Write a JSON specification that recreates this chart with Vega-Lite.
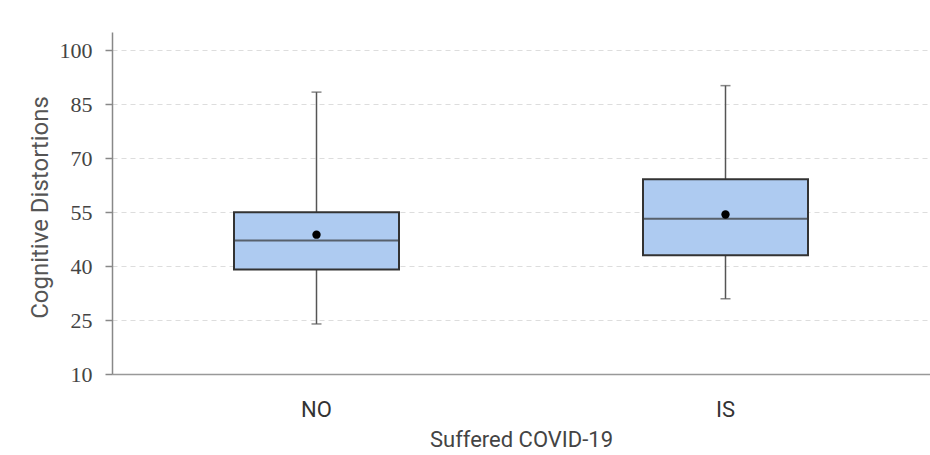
{
  "$schema": "https://vega.github.io/schema/vega-lite/v6.json",
  "autosize": "none",
  "padding": {"left": 112, "top": 32, "right": 0, "bottom": 81},
  "width": 818,
  "height": 342,
  "background": "white",
  "config": {"view": {"stroke": null}},
  "data": {
    "values": [
      {"group": "NO", "lower": 23.9, "q1": 39.0, "median": 47.1, "q3": 54.9, "upper": 88.3, "mean": 48.7},
      {"group": "IS", "lower": 30.9, "q1": 43.0, "median": 53.1, "q3": 64.1, "upper": 90.1, "mean": 54.3}
    ]
  },
  "encoding": {
    "x": {
      "field": "group", "type": "nominal", "sort": ["NO", "IS"],
      "scale": {"paddingInner": 0, "paddingOuter": 0},
      "axis": {
        "title": "Suffered COVID-19", "ticks": false, "grid": false, "labelAngle": 0,
        "domainColor": "#999", "domainWidth": 1.5,
        "labelFont": "Roboto", "labelFontSize": 22, "labelColor": "#333", "labelPadding": 25,
        "titleFont": "Roboto", "titleFontSize": 22, "titleFontWeight": "normal", "titleColor": "#444", "titlePadding": 9
      }
    }
  },
  "layer": [
    {
      "mark": {"type": "rule", "color": "#555", "strokeWidth": 1.5},
      "encoding": {
        "y": {
          "field": "lower", "type": "quantitative",
          "scale": {"domain": [10, 105], "nice": false, "zero": false},
          "axis": {
            "title": "Cognitive Distortions", "values": [10, 25, 40, 55, 70, 85, 100],
            "domainColor": "#888", "domainWidth": 1.5, "tickColor": "#888", "tickSize": 7, "tickWidth": 1.5,
            "labelFont": "Liberation Serif", "labelFontSize": 22, "labelColor": "#444", "labelPadding": 13,
            "grid": true, "gridColor": "#dddddd", "gridDash": [5, 4], "gridWidth": 1,
            "titleFont": "Roboto", "titleFontSize": 24, "titleFontWeight": "normal", "titleColor": "#555",
            "titleAngle": -90, "titleX": -72, "titleY": 175, "titleAlign": "center", "titleBaseline": "middle"
          }
        },
        "y2": {"field": "upper"}
      }
    },
    {
      "mark": {"type": "tick", "color": "#555", "size": 10, "thickness": 1.5},
      "encoding": {"y": {"field": "lower", "type": "quantitative"}}
    },
    {
      "mark": {"type": "tick", "color": "#555", "size": 10, "thickness": 1.5},
      "encoding": {"y": {"field": "upper", "type": "quantitative"}}
    },
    {
      "mark": {"type": "bar", "size": 165, "fill": "#aecbf1", "stroke": "#333", "strokeWidth": 2},
      "encoding": {
        "y": {"field": "q1", "type": "quantitative"},
        "y2": {"field": "q3"}
      }
    },
    {
      "mark": {"type": "tick", "color": "#333", "size": 165, "thickness": 2},
      "encoding": {"y": {"field": "median", "type": "quantitative"}}
    },
    {
      "mark": {"type": "point", "filled": true, "color": "#000", "size": 70, "opacity": 1},
      "encoding": {"y": {"field": "mean", "type": "quantitative"}}
    }
  ]
}
